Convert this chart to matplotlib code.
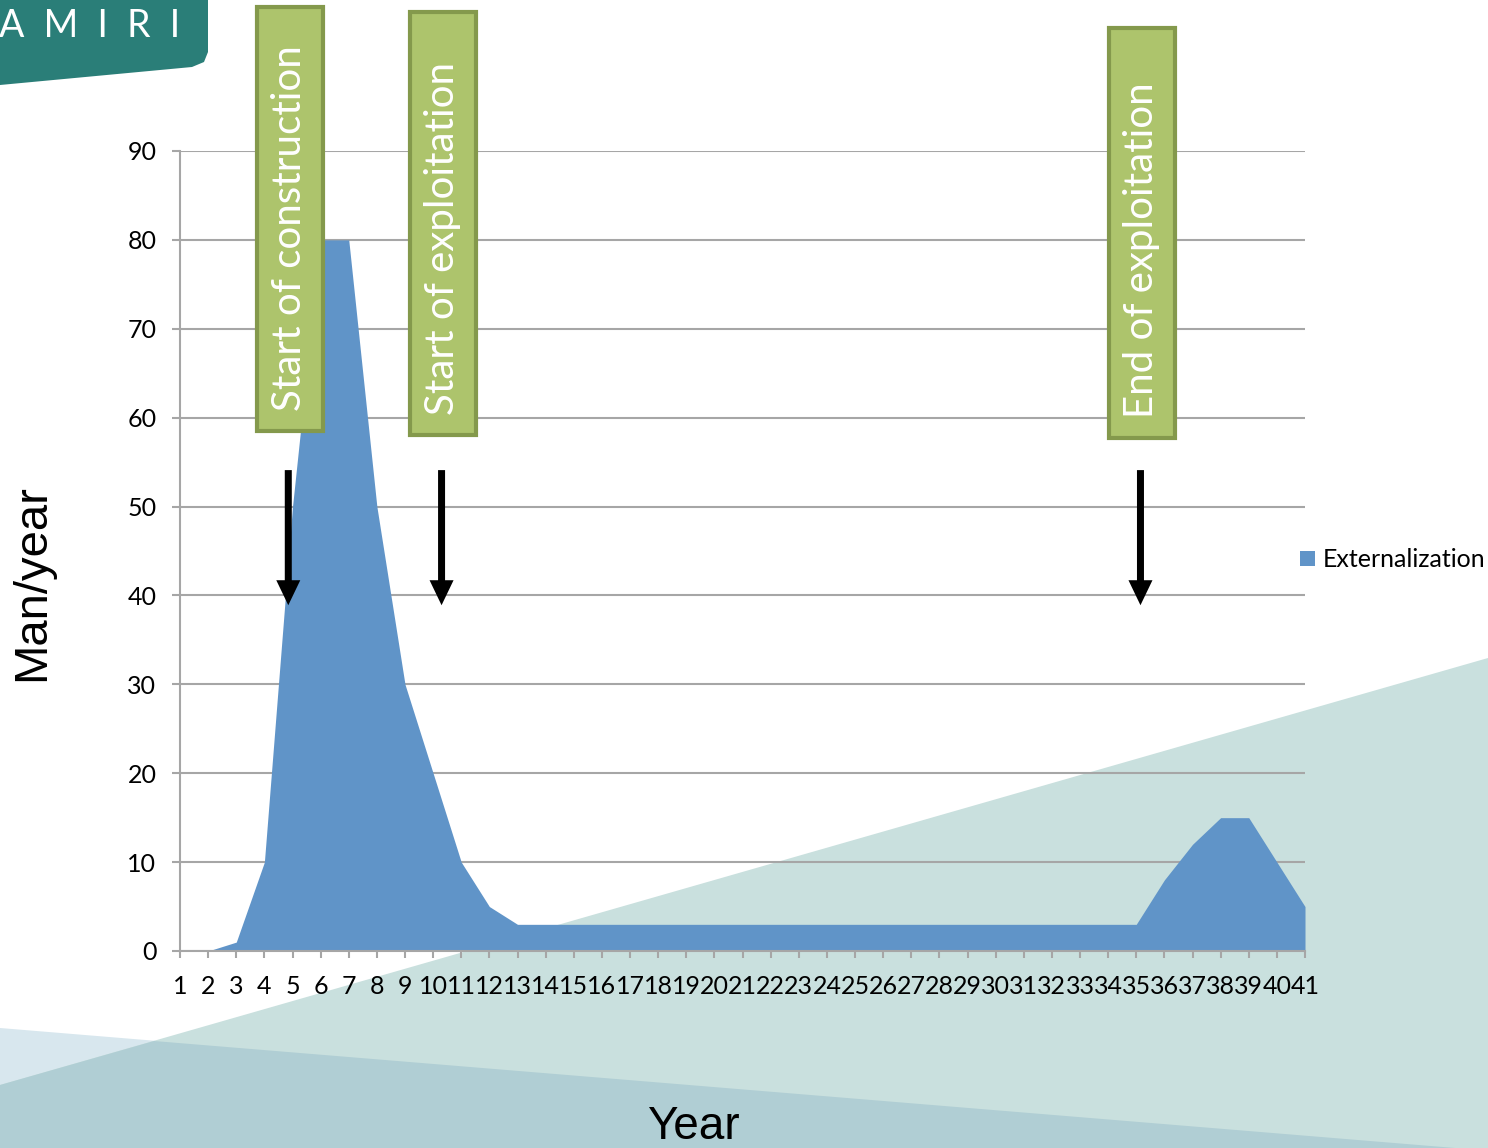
import numpy as np
import matplotlib.pyplot as plt
from matplotlib.patches import Polygon, Rectangle

# data
years = list(range(1, 42))
externalization = [0, 0, 1, 10, 50, 80, 80, 50, 30, 20, 10, 5,
                   3, 3, 3, 3, 3, 3, 3, 3, 3, 3, 3, 3, 3, 3, 3, 3, 3, 3, 3, 3, 3, 3, 3,
                   8, 12, 15, 15, 10, 5]
y_ticks = [0, 10, 20, 30, 40, 50, 60, 70, 80, 90]
event_labels = ['Start of construction', 'Start of exploitation', 'End of exploitation']
event_years = [4.9, 10.35, 35.2]

# colours
area_col = '#6094c8'
grid_col = '#a6a6a6'
box_fill = '#adc46c'
box_edge = '#84994c'

W, H = 1488, 1148
fig = plt.figure(figsize=(W / 100, H / 100), dpi=100)

# background decoration, pixel coords
bg = fig.add_axes([0, 0, 1, 1], zorder=0)
bg.set_xlim(0, W)
bg.set_ylim(H, 0)
bg.axis('off')
bg.add_patch(Polygon([(0, 1028), (1455, 1148), (0, 1148)], closed=True, color='#d8e7ee', lw=0))
bg.add_patch(Polygon([(0, 1085), (W, 658), (W, H), (0, H)], closed=True, color='#c9e0de', lw=0))
bg.add_patch(Polygon([(0, 1085), (154, 1041), (1455, 1148), (0, 1148)], closed=True, color='#b0ced4', lw=0))
# logo banner
bg.add_patch(Polygon([(0, 0), (208, 0), (208, 52), (204, 62), (192, 67), (0, 85)],
                     closed=True, color='#2a7e78', lw=0))
bg.text(-1, 26, 'A  M  I  R  I', color='white', fontsize=27, family='Lato',
        va='center', ha='left')

# main chart
ax = fig.add_axes([180 / W, 197 / H, 1125 / W, 800 / H], zorder=1)
ax.set_facecolor('none')
ax.fill_between(years, externalization, 0, color=area_col, lw=0, zorder=3,
                label='Externalization')
ax.set_xlim(1, 41)
ax.set_ylim(0, 90)
ax.set_xticks(years)
ax.set_xticklabels([str(y) for y in years])
ax.set_yticks(y_ticks)
ax.grid(axis='y', color=grid_col, lw=1.5, zorder=1)
ax.set_axisbelow(True)
for s in ['top', 'right']:
    ax.spines[s].set_visible(False)
for s in ['left', 'bottom']:
    ax.spines[s].set_color(grid_col)
    ax.spines[s].set_linewidth(1.5)
    ax.spines[s].set_zorder(4)
ax.tick_params(axis='both', color=grid_col, width=1.5, labelsize=18)
ax.tick_params(axis='y', length=6, pad=11)
ax.tick_params(axis='x', length=5, pad=12)
for lab in ax.get_xticklabels() + ax.get_yticklabels():
    lab.set_family('Lato')

leg = ax.legend(loc='center left', bbox_to_anchor=(0.9955, 0.489), frameon=False,
                prop={'family': 'Lato', 'size': 18}, handlelength=0.6,
                handleheight=0.6, handletextpad=0.3, borderaxespad=0, borderpad=0)

# event boxes and arrows
px_x = 1125 / 40.0
px_y = 800 / 90.0
box_w = 66 / px_x
box_bottom = [58.5, 58.0, 57.7]
box_top = [106.2, 105.6, 103.8]
for lab, x, b, t in zip(event_labels, event_years, box_bottom, box_top):
    ax.add_patch(Rectangle((x - box_w / 2, b), box_w, t - b, facecolor=box_fill,
                           edgecolor=box_edge, lw=3, clip_on=False, zorder=6))
    ax.text(x, b + 20 / px_y, lab, rotation=90, color='white', fontsize=29,
            family='Lato', ha='center', va='bottom',
            clip_on=False, zorder=7)
    ax.arrow(x - 0.05, 54.1, 0, 38.9 - 54.1, width=7 / px_x, head_width=24 / px_x,
             head_length=25 / px_y, length_includes_head=True, color='black',
             lw=0, clip_on=False, zorder=7)

fig.text(32 / W, 1 - 583 / H, 'Man/year', rotation=90, fontsize=34,
         family='Liberation Sans', ha='center', va='center')
fig.text(693 / W, 1 - 1127 / H, 'Year', fontsize=33, family='Liberation Sans',
         ha='center', va='center')

fig.savefig('out.png', dpi=100)
